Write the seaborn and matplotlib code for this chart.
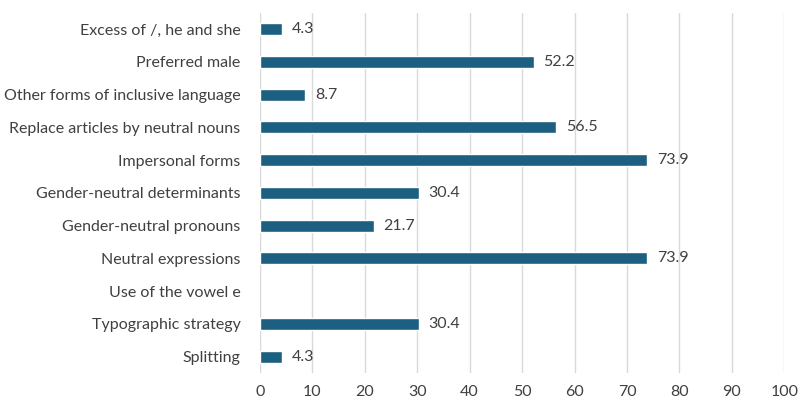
import matplotlib
matplotlib.use("Agg")
import matplotlib.pyplot as plt
import seaborn as sns
import pandas as pd
import numpy as np

categories = [
    "Excess of /, he and she",
    "Preferred male",
    "Other forms of inclusive language",
    "Replace articles by neutral nouns",
    "Impersonal forms",
    "Gender-neutral determinants",
    "Gender-neutral pronouns",
    "Neutral expressions",
    "Use of the vowel e",
    "Typographic strategy",
    "Splitting",
]
values = [4.3, 52.2, 8.7, 56.5, 73.9, 30.4, 21.7, 73.9, np.nan, 30.4, 4.3]
x_ticks = [0, 10, 20, 30, 40, 50, 60, 70, 80, 90, 100]

df = pd.DataFrame({"category": categories, "value": values})

sns.set_theme(style="white")
plt.rcParams["font.family"] = ["Lato", "DejaVu Sans"]

fig = plt.figure(figsize=(8.02, 4.01), dpi=100)
ax = fig.add_axes([0.324, 0.07, 0.654, 0.898])

bar_color = "#1d5f80"
sns.barplot(data=df, y="category", x="value", orient="h", color=bar_color,
            width=0.37, ax=ax, saturation=1)

text_color = "#404040"
for i, v in enumerate(values):
    if not np.isnan(v):
        ax.text(v + 1.8, i, f"{v:.1f}", va="center", ha="left",
                fontsize=11.5, color=text_color)

ax.set_xlim(0, 100)
ax.set_xticks(x_ticks)
ax.set_xticklabels([str(t) for t in x_ticks])
ax.set_ylim(10.5, -0.5)
ax.set_xlabel("")
ax.set_ylabel("")
ax.grid(axis="x", color="#d9d9d9", linewidth=1)
ax.grid(axis="y", visible=False)
ax.set_axisbelow(True)
for s in ax.spines.values():
    s.set_visible(False)
ax.tick_params(axis="both", length=0, labelsize=11.5, labelcolor=text_color)
ax.tick_params(axis="x", pad=9)
ax.tick_params(axis="y", pad=14)

fig.savefig("out.png", dpi=100)
